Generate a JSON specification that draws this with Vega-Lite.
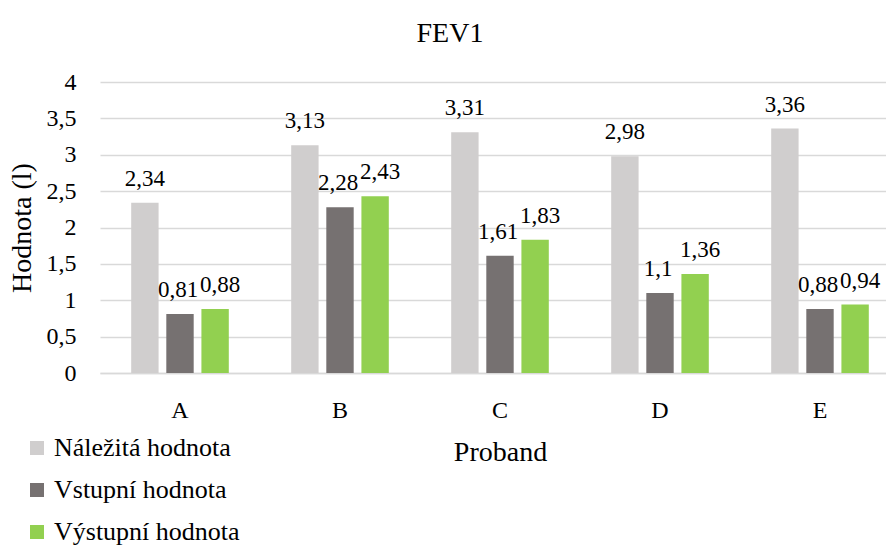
{
  "$schema": "https://vega.github.io/schema/vega-lite/v6.json",
  "width": 786,
  "height": 291,
  "autosize": {"type": "none"},
  "padding": {"left": 100, "top": 82, "right": 0, "bottom": 174},
  "title": {"text": "FEV1", "fontSize": 28, "font": "Liberation Serif", "fontWeight": "normal", "color": "#000000", "anchor": "middle", "dx": -43, "offset": 22},
  "data": {
    "values": [
      {"proband": "A", "serie": "Náležitá hodnota", "hodnota": 2.34},
      {"proband": "A", "serie": "Vstupní hodnota", "hodnota": 0.81},
      {"proband": "A", "serie": "Výstupní hodnota", "hodnota": 0.88},
      {"proband": "B", "serie": "Náležitá hodnota", "hodnota": 3.13},
      {"proband": "B", "serie": "Vstupní hodnota", "hodnota": 2.28},
      {"proband": "B", "serie": "Výstupní hodnota", "hodnota": 2.43},
      {"proband": "C", "serie": "Náležitá hodnota", "hodnota": 3.31},
      {"proband": "C", "serie": "Vstupní hodnota", "hodnota": 1.61},
      {"proband": "C", "serie": "Výstupní hodnota", "hodnota": 1.83},
      {"proband": "D", "serie": "Náležitá hodnota", "hodnota": 2.98},
      {"proband": "D", "serie": "Vstupní hodnota", "hodnota": 1.1},
      {"proband": "D", "serie": "Výstupní hodnota", "hodnota": 1.36},
      {"proband": "E", "serie": "Náležitá hodnota", "hodnota": 3.36},
      {"proband": "E", "serie": "Vstupní hodnota", "hodnota": 0.88},
      {"proband": "E", "serie": "Výstupní hodnota", "hodnota": 0.94}
    ]
  },
  "encoding": {
    "x": {
      "field": "proband", "type": "nominal", "title": "Proband",
      "scale": {"range": [0, 800], "paddingInner": 0.39, "paddingOuter": 0.195},
      "axis": {"labelAngle": 0, "ticks": false, "domainColor": "#D9D9D9", "domainWidth": 1.5, "labelPadding": 25, "titleX": 400, "titleY": 79, "titleBaseline": "middle", "labelFontSize": 24, "titleFontSize": 28}
    },
    "xOffset": {"field": "serie", "type": "nominal", "scale": {"domain": ["Náležitá hodnota", "Vstupní hodnota", "Výstupní hodnota"], "paddingInner": 0.22, "paddingOuter": 0}},
    "y": {
      "field": "hodnota", "type": "quantitative", "title": "Hodnota (l)",
      "scale": {"domain": [0, 4], "nice": false},
      "axis": {"values": [0, 0.5, 1, 1.5, 2, 2.5, 3, 3.5, 4], "format": "~g", "domain": false, "ticks": false, "labelPadding": 24, "gridColor": "#D9D9D9", "gridWidth": 1.5, "labelFontSize": 24, "titleFontSize": 28, "titleX": -78, "titleY": 145.5, "titleBaseline": "middle", "titleAlign": "center", "titleAngle": -90}
    }
  },
  "layer": [
    {
      "mark": {"type": "bar"},
      "encoding": {
        "color": {
          "field": "serie", "type": "nominal", "title": null,
          "scale": {"domain": ["Náležitá hodnota", "Vstupní hodnota", "Výstupní hodnota"], "range": ["#D0CECE", "#767171", "#92D050"]},
          "legend": {"orient": "none", "legendX": -76, "legendY": 353, "direction": "vertical", "symbolType": "square", "symbolSize": 196, "symbolStrokeWidth": 0, "labelFontSize": 26, "labelOffset": 4, "rowPadding": 16, "labelLimit": 0, "labelColor": "#000000"}
        }
      }
    },
    {
      "transform": [{"filter": "datum.serie == 'Náležitá hodnota'"}],
      "mark": {"type": "text", "baseline": "alphabetic", "dy": -17, "fontSize": 23, "color": "#000000"},
      "encoding": {
        "text": {"field": "hodnota", "type": "quantitative", "format": ".2~f"}
      }
    },
    {
      "transform": [{"filter": "datum.serie == 'Vstupní hodnota'"}],
      "mark": {"type": "text", "baseline": "alphabetic", "dy": -17, "dx": -2, "fontSize": 23, "color": "#000000"},
      "encoding": {
        "text": {"field": "hodnota", "type": "quantitative", "format": ".2~f"}
      }
    },
    {
      "transform": [{"filter": "datum.serie == 'Výstupní hodnota'"}],
      "mark": {"type": "text", "baseline": "alphabetic", "dy": -17, "dx": 5, "fontSize": 23, "color": "#000000"},
      "encoding": {
        "text": {"field": "hodnota", "type": "quantitative", "format": ".2~f"}
      }
    }
  ],
  "config": {
    "locale": {"number": {"decimal": ",", "thousands": " ", "grouping": [3], "currency": ["", ""]}},
    "font": "Liberation Serif",
    "view": {"stroke": null},
    "axis": {"labelFont": "Liberation Serif", "titleFont": "Liberation Serif", "labelColor": "#000000", "titleColor": "#000000", "titleFontWeight": "normal"},
    "legend": {"labelFont": "Liberation Serif"},
    "text": {"font": "Liberation Serif"}
  }
}
